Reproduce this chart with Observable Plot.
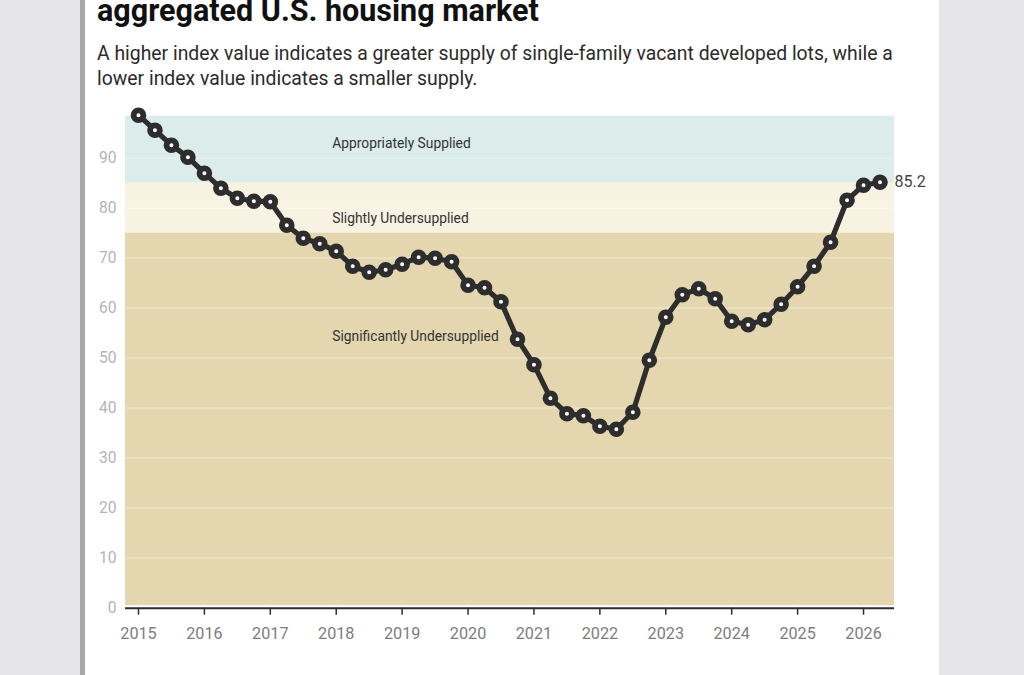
<!DOCTYPE html>
<html><head><meta charset="utf-8">
<script src="https://cdn.jsdelivr.net/npm/d3@7"></script>
<script src="https://cdn.jsdelivr.net/npm/@observablehq/plot@0.6"></script>
<style>
html,body{margin:0;padding:0;width:1024px;height:675px;overflow:hidden;background:#e6e6e8;font-family:Roboto,sans-serif}
#card{position:absolute;left:85px;top:0;width:854px;height:675px;background:#fff;overflow:hidden}
#edge{position:absolute;left:80px;top:0;width:5px;height:675px;background:#a8a8a8}
#title{position:absolute;left:12px;top:-7px;font-size:30.5px;font-weight:700;line-height:36px;color:#111;white-space:nowrap}
#sub{position:absolute;left:12px;top:42px;width:810px;font-size:19.37px;line-height:24.5px;color:#2b2b2b}
#chart{position:absolute;left:-85px;top:0;width:1024px}
#chart svg{max-width:none}
</style></head><body>
<div id="edge"></div>
<div id="card">
<div id="title">aggregated U.S. housing market</div>
<div id="sub">A higher index value indicates a greater supply of single-family vacant developed lots, while a lower index value indicates a smaller supply.</div>
<div id="chart"></div>
</div>
<script>
const years = d3.range(2015, 2026.5, 0.25);
const index = [98.6,95.6,92.6,90.2,87,84,82,81.4,81.3,76.6,74,72.9,71.4,68.4,67.2,67.7,68.8,70.2,70,69.3,64.6,64.1,61.3,53.8,48.7,42,38.9,38.5,36.4,35.8,39.2,49.6,58.2,62.7,63.9,61.9,57.4,56.7,57.7,60.8,64.3,68.4,73.2,81.6,84.6,85.2];
const series = years.map((year,i)=>({year,value:index[i]}));
const bands = [
 {y1:85,y2:98.4,fill:"#dbecea"},
 {y1:75,y2:85,fill:"#f8f2e2"},
 {y1:0.5,y2:75,fill:"#e4d7af"}
];
const bandLabels = [
 {y:92.9,x:2017.94,text:"Appropriately Supplied"},
 {y:78,x:2017.94,text:"Slightly Undersupplied"},
 {y:54.3,x:2017.94,text:"Significantly Undersupplied"}
];
const yTicks = d3.range(0,100,10);
const xTicks = d3.range(2015,2027);
const lastLabel = "85.2";
const xMin = 2014.803, xMax = 2026.47;
const dark = "#2d2d2d";
const plot = Plot.plot({
 width:1024,height:675,
 marginLeft:125,marginRight:130,marginTop:115.7,marginBottom:67.3,
 style:{fontFamily:"Roboto, sans-serif",background:"transparent",overflow:"visible"},
 x:{domain:[xMin,xMax],label:null},
 y:{domain:[0,98.4],label:null},
 marks:[
  Plot.rectY(bands,{x1:xMin,x2:xMax,y1:"y1",y2:"y2",fill:"fill"}),
  Plot.ruleY(yTicks.filter(d=>d>0),{stroke:"#fff",strokeOpacity:0.4,strokeWidth:1.2}),
  Plot.axisY({ticks:yTicks,tickSize:0,tickPadding:9,tickFormat:d=>d,fontSize:15.6,color:"#b4b4b4",label:null}),
  Plot.axisX({ticks:xTicks,tickSize:7,tickPadding:12,tickFormat:d=>String(d),fontSize:16.2,color:"#7d7d7d",stroke:dark,strokeOpacity:1,strokeWidth:1.5,label:null}),
  Plot.ruleY([0],{stroke:dark,strokeWidth:2}),
  Plot.text(bandLabels,{x:"x",y:"y",text:"text",textAnchor:"start",fontSize:13.8,fill:"#333"}),
  Plot.line(series,{x:"year",y:"value",stroke:dark,strokeWidth:5.2,curve:"linear"}),
  Plot.dot(series,{x:"year",y:"value",r:4.9,fill:"#fff",stroke:dark,strokeWidth:5.8}),
  Plot.text(series.slice(-1),{x:"year",y:"value",text:()=>lastLabel,dx:14.5,dy:-0.5,textAnchor:"start",fontSize:16,fill:"#444"})
 ]
});
document.getElementById("chart").append(plot);
</script>
</body></html>
